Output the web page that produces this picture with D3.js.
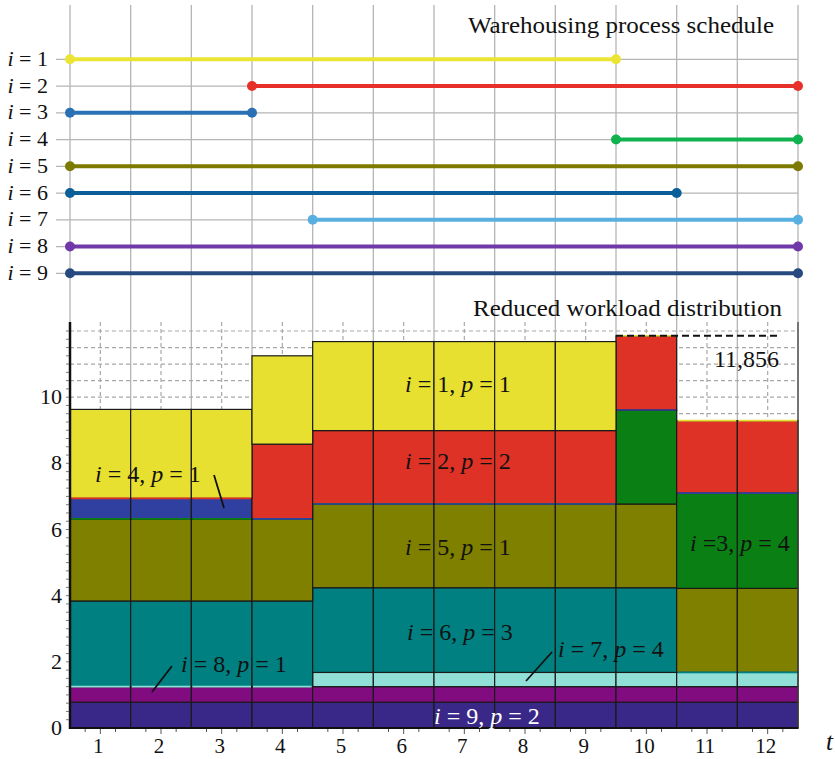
<!DOCTYPE html>
<html><head><meta charset="utf-8">
<script src="https://cdn.jsdelivr.net/npm/d3@7"></script>
<style>body{margin:0;background:#fff}</style>
</head><body><svg id="c" width="835" height="759"></svg>
<script>
// ---- data ----
const periods = [1,2,3,4,5,6,7,8,9,10,11,12];
const processes = [1,2,3,4,5,6,7,8,9];
const schedStart = [1,4,1,10,1,1,5,1,1];
const schedEnd   = [9,12,3,12,12,10,12,12,12];
const schedColors = ["#ece434","#e8302a","#2a70b5","#0fb24f","#7d7a00","#0a5f98","#58b0e0","#7038a8","#264a80"];

const layerNames = ["i9","i8","i7","i6","i5","green","blue","red","yellow"];
const i9     = [0.78,0.78,0.78,0.78,0.78,0.78,0.78,0.78,0.78,0.78,0.78,0.78];
const i8     = [0.47,0.47,0.47,0.47,0.47,0.47,0.47,0.47,0.47,0.47,0.47,0.47];
const i7     = [0,0,0,0,0.43,0.43,0.43,0.43,0.43,0.43,0.43,0.43];
const i6     = [2.59,2.59,2.59,2.59,2.56,2.56,2.56,2.56,2.56,2.56,0,0];
const i5     = [2.48,2.48,2.48,2.48,2.53,2.53,2.53,2.53,2.53,2.53,2.54,2.54];
const green  = [0,0,0,0,0,0,0,0,0,2.84,2.88,2.88];
const blue   = [0.62,0.62,0.62,0,0,0,0,0,0,0,0,0];
const red    = [0,0,0,2.26,2.22,2.22,2.22,2.22,2.22,2.246,2.19,2.19];
const yellow = [2.69,2.69,2.69,2.67,2.69,2.69,2.69,2.69,2.69,0,0,0];
const layerValues = [i9,i8,i7,i6,i5,green,blue,red,yellow];
const layerColors = ["#392887","#800c80","#90e0d8","#008080","#808000","#0a8014","#2f40a0","#df3226","#e8e030"];
const peakValue = 11.856;
const peakLabel = "11,856";
const yTicks = [0,2,4,6,8,10];

const FONT = "Liberation Serif";

// ---- scales ----
const svg = d3.select("#c");
const x = d3.scaleLinear().domain([0.5,12.5]).range([70,798]);
const y = d3.scaleLinear().domain([0,12]).range([728,331]);
const row = d3.scalePoint().domain(processes).range([59.3,273.3]);

function ptext(g, xx, yy, str, size, anchor){
  return g.append("text").attr("x",xx).attr("y",yy).attr("font-size",size)
    .attr("font-family",FONT).attr("fill","#111").attr("text-anchor",anchor||"start").text(str);
}
function itext(g, xx, yy, parts, size, anchor, fill){
  const t = g.append("text").attr("x",xx).attr("y",yy).attr("font-size",size)
    .attr("font-family",FONT).attr("fill",fill||"#111").attr("text-anchor",anchor||"start");
  parts.forEach(p=>{ t.append("tspan").text(p[0]).attr("font-style",p[1]?"italic":"normal"); });
  return t;
}

// ---- top grid ----
const grid = svg.append("g");
d3.range(0.5,12.51,1).forEach(b=>{
  grid.append("line").attr("x1",x(b)).attr("x2",x(b)).attr("y1",5).attr("y2",728)
   .attr("stroke","#b5b5b5").attr("stroke-width",1.3);
});
processes.forEach(p=>{
  grid.append("line").attr("x1",56).attr("x2",798).attr("y1",row(p)).attr("y2",row(p))
   .attr("stroke","#b5b5b5").attr("stroke-width",1.3);
});

// bottom dashed grid
const dg = svg.append("g");
d3.range(0,12.01,0.5).forEach(v=>{
  dg.append("line").attr("x1",70).attr("x2",798).attr("y1",y(v)).attr("y2",y(v))
   .attr("stroke","#a8a8a8").attr("stroke-width",1.2).attr("stroke-dasharray","4,3");
});
periods.forEach(t=>{
  dg.append("line").attr("x1",x(t)).attr("x2",x(t)).attr("y1",322).attr("y2",728)
   .attr("stroke","#a8a8a8").attr("stroke-width",1.2).attr("stroke-dasharray","4,3");
});

// ---- schedule ----
const sg = svg.append("g");
processes.forEach((p,k)=>{
  const x1 = x(schedStart[k]-0.5), x2 = x(schedEnd[k]+0.5), yy=row(p);
  sg.append("line").attr("x1",x1).attr("x2",x2).attr("y1",yy).attr("y2",yy)
    .attr("stroke",schedColors[k]).attr("stroke-width",4);
  [x1,x2].forEach(cx=>sg.append("circle").attr("cx",cx).attr("cy",yy).attr("r",5).attr("fill",schedColors[k]));
  itext(sg, 48, yy+6.5, [["i",true],[" = "+p,false]], 22, "end");
});
ptext(svg, 468, 33, "Warehousing process schedule", 24).attr("textLength",306).attr("lengthAdjust","spacingAndGlyphs");
ptext(svg, 473, 316, "Reduced workload distribution", 24).attr("textLength",309).attr("lengthAdjust","spacingAndGlyphs");

// ---- stacked workload ----
const table = periods.map((t,j)=>{ const o={t}; layerNames.forEach((n,k)=>o[n]=layerValues[k][j]); return o; });
const series = d3.stack().keys(layerNames)(table);
const bg = svg.append("g");
const zeroLines = [];
series.forEach((s,k)=>{
  s.forEach((d,j)=>{
    const t = periods[j];
    const h = d[1]-d[0];
    if(h>0){
      bg.append("rect").attr("x",x(t-0.5)).attr("width",x(t+0.5)-x(t-0.5))
        .attr("y",y(d[1])).attr("height",y(d[0])-y(d[1]))
        .attr("fill",layerColors[k]).attr("stroke","#1a1a1a").attr("stroke-width",1.2);
    } else {
      zeroLines.push({t, v:d[0], c:layerColors[k]});
    }
  });
});
zeroLines.forEach(z=>{
  bg.append("line").attr("x1",x(z.t-0.5)+1).attr("x2",x(z.t+0.5)-1).attr("y1",y(z.v)).attr("y2",y(z.v))
   .attr("stroke",z.c).attr("stroke-width",1.6);
});

// peak
svg.append("line").attr("x1",x(9.5)).attr("x2",x(12.2)).attr("y1",y(peakValue)).attr("y2",y(peakValue))
  .attr("stroke","#111").attr("stroke-width",2).attr("stroke-dasharray","7,4");
ptext(svg, 779, 367, peakLabel, 24, "end");

// ---- axes ----
const ax = svg.append("g");
ax.append("line").attr("x1",70).attr("x2",70).attr("y1",322).attr("y2",729).attr("stroke","#111").attr("stroke-width",2.5);
ax.append("line").attr("x1",798).attr("x2",798).attr("y1",322).attr("y2",729).attr("stroke","#444").attr("stroke-width",1.3);
ax.append("line").attr("x1",69).attr("x2",798).attr("y1",728).attr("y2",728).attr("stroke","#111").attr("stroke-width",2);
d3.range(0.75,12.4,0.25).forEach(v=>{
  const major = Math.abs(v-Math.round(v))<1e-6;
  if(Math.abs(Math.abs(v-Math.round(v))-0.5)<1e-6) return;
  ax.append("line").attr("x1",x(v)).attr("x2",x(v)).attr("y1",729).attr("y2",major?734:732).attr("stroke","#555").attr("stroke-width",1);
});
d3.range(0.25,12.1,0.25).forEach(v=>{
  ax.append("line").attr("x1",66).attr("x2",69).attr("y1",y(v)).attr("y2",y(v)).attr("stroke","#777").attr("stroke-width",1);
});
periods.forEach(t=>{ ptext(ax, x(t)-2, 753, String(t), 21, "middle"); });
yTicks.forEach(v=>{ ptext(ax, 62, y(v)+7, String(v), 22, "end"); });
itext(ax, 826, 750, [["t",true]], 25, "start");

// ---- in-chart labels ----
const lg = svg.append("g");
const L = (n,p)=>[["i",true],[" = "+n+", ",false],["p",true],[" = "+p,false]];
itext(lg, 458, 392, L(1,1), 24, "middle");
itext(lg, 458, 469, L(2,2), 24, "middle");
itext(lg, 458, 555, L(5,1), 24, "middle");
itext(lg, 460, 640, L(6,3), 24, "middle");
itext(lg, 487, 724, L(9,2), 24, "middle", "#fff");
itext(lg, 611, 657, L(7,4), 24, "middle");
itext(lg, 234, 672, L(8,1), 24, "middle");
itext(lg, 148, 482, L(4,1), 24, "middle");
itext(lg, 740, 551, [["i",true],[" =3, ",false],["p",true],[" = 4",false]], 24, "middle");
[[526,681,552,652],[152,692,172,666],[214,475,224,508]].forEach(l=>{
  lg.append("line").attr("x1",l[0]).attr("y1",l[1]).attr("x2",l[2]).attr("y2",l[3]).attr("stroke","#111").attr("stroke-width",1.8);
});
</script></body></html>
